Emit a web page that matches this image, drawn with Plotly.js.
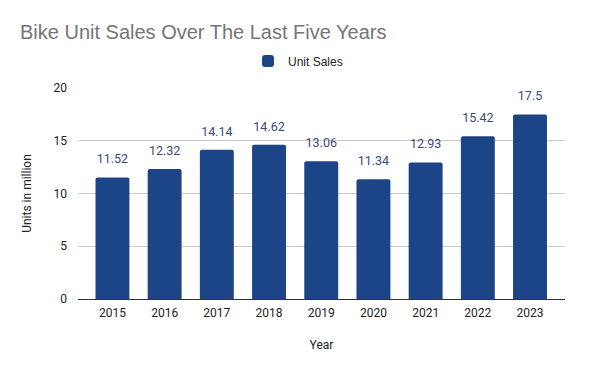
<!DOCTYPE html>
<html><head><meta charset="utf-8">
<script src="https://cdn.plot.ly/plotly-3.0.1.min.js"></script>
<style>html,body{margin:0;padding:0;background:#fff}#c{width:600px;height:371px}</style>
</head><body><div id="c"></div>
<script>
const years = ['2015','2016','2017','2018','2019','2020','2021','2022','2023'];
const unitSales = [11.52, 12.32, 14.14, 14.62, 13.06, 11.34, 12.93, 15.42, 17.5];
const labels = ['11.52','12.32','14.14','14.62','13.06','11.34','12.93','15.42','17.5'];
const yTicks = [0, 5, 10, 15, 20];

const trace = {
  type: 'bar', x: years, y: unitSales, name: 'Unit Sales',
  marker: {color: '#1c4587'}, width: 0.65,
  hoverinfo: 'x+y'
};
const labelTrace = {
  type: 'scatter', mode: 'markers+text', x: years, y: unitSales, text: labels,
  marker: {size: 16, color: 'rgba(0,0,0,0)'},
  textposition: 'top center', showlegend: false, cliponaxis: false, hoverinfo: 'skip',
  textfont: {family: 'Roboto, sans-serif', size: 12.5, color: '#3c4a7a'}
};
const layout = {
  width: 600, height: 371,
  margin: {l: 78, r: 35, t: 88, b: 72},
  paper_bgcolor: '#fff', plot_bgcolor: '#fff',
  barcornerradius: 2,
  title: {text: 'Bike Unit Sales Over The Last Five Years', x: 20/600, xanchor: 'left', y: 1 - 32/371, yanchor: 'middle',
    font: {family: 'Liberation Sans, Arial, sans-serif', size: 20, color: '#757575'}},
  showlegend: true,
  legend: {orientation: 'h', x: (248-78)/487, xanchor: 'left', y: 1 + 27/211, yanchor: 'middle',
    font: {family: 'Liberation Sans, Arial, sans-serif', size: 12, color: '#222'}},
  xaxis: {type: 'category', range: [-0.66, 8.67], showgrid: false, showline: true, linecolor: '#333', linewidth: 1,
    ticks: '', ticklabelstandoff: 3, tickfont: {family: 'Roboto, sans-serif', size: 12, color: '#222'},
    title: {text: 'Year', font: {family: 'Roboto, sans-serif', size: 12, color: '#222'}, standoff: 21}},
  yaxis: {range: [0, 20], tickvals: yTicks, ticktext: yTicks.map(String), showgrid: true, gridcolor: '#cccccc',
    zeroline: false, showline: false, ticks: '', ticklabelstandoff: 10,
    tickfont: {family: 'Roboto, sans-serif', size: 12, color: '#222'},
    title: {text: 'Units in million', font: {family: 'Roboto, sans-serif', size: 12, color: '#222'}, standoff: 19}}
};
Plotly.newPlot('c', [trace, labelTrace], layout, {displayModeBar: false, staticPlot: true});
</script></body></html>
